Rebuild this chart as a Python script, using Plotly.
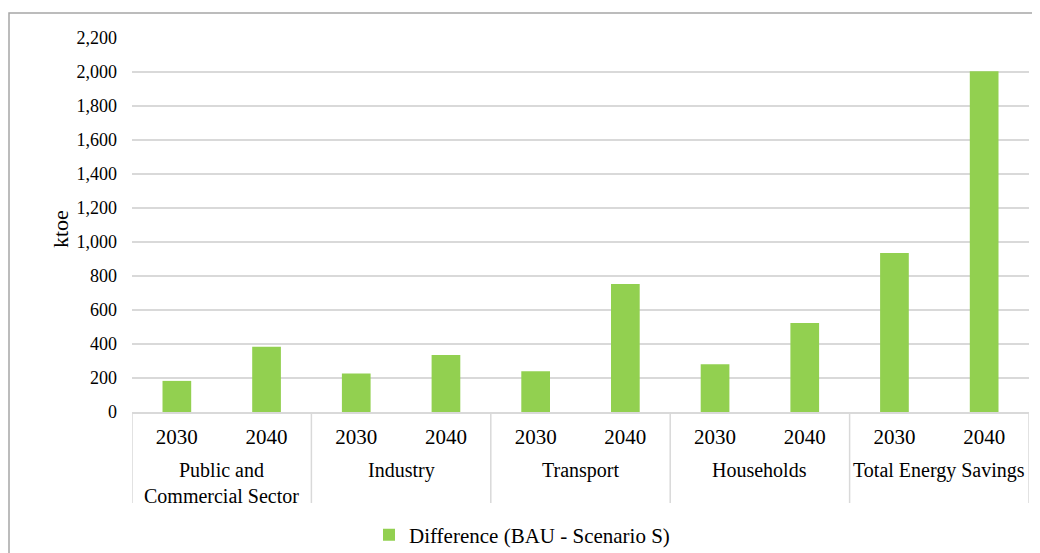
import plotly.graph_objects as go

sectors = ["Public and<br>Commercial Sector", "Industry", "Transport", "Households", "Total Energy Savings"]
years = ["2030", "2040"]
values_2030 = [183, 226, 240, 281, 935]
values_2040 = [384, 335, 753, 523, 2005]
series_name = "Difference (BAU - Scenario S)"
y_ticks = [0, 200, 400, 600, 800, 1000, 1200, 1400, 1600, 1800, 2000, 2200]

xpos, ticktext, vals = [], [], []
for gi, (a, b) in enumerate(zip(values_2030, values_2040)):
    for yi, v in enumerate((a, b)):
        xpos.append(gi * 2 + yi)
        ticktext.append(years[yi])
        vals.append(v)

FONT = "Liberation Serif"
GRID = "#d9d9d9"
OFF = 8  # page body margin
L, T, R, B = 132 - OFF, 38 - OFF, 1040 - 1029 + OFF, 553 - 412 + OFF
PH = 553 - T - B
PW = 1040 - L - R
fig = go.Figure()
fig.add_trace(go.Bar(
    x=xpos, y=vals, name=series_name,
    marker=dict(color="#92d050", line=dict(width=0)),
    showlegend=True, width=0.32,
))

fig.update_layout(
    width=1040, height=553,
    margin=dict(l=L, r=R, t=T, b=B, autoexpand=False),
    paper_bgcolor="white", plot_bgcolor="white",
    font=dict(family=FONT, size=18, color="#000000"),
    showlegend=True,
    legend=dict(orientation="h", xref="container", yref="container",
                x=(369 - OFF) / 1040, xanchor="left", y=1 - (535 - OFF) / 553, yanchor="middle",
                font=dict(size=21, family=FONT), itemwidth=30),
    xaxis=dict(
        range=[-0.5, len(xpos) - 0.5], tickvals=xpos, ticktext=ticktext,
        showline=True, linecolor=GRID, linewidth=1.5,
        tickfont=dict(size=21, family=FONT), ticklabelstandoff=5,
        ticks="", showgrid=False, zeroline=False, automargin=False,
    ),
    yaxis=dict(
        range=[0, 2200], tickvals=y_ticks, tickformat=",d",
        showgrid=True, gridcolor=GRID, gridwidth=1.5,
        zeroline=False, showline=False, ticks="",
        ticklabelstandoff=14, automargin=False,
        tickfont=dict(size=18, family=FONT),
    ),
)

div_bottom = (412 - 503) / PH
for gi, s in enumerate(sectors):
    nlines = s.count("<br>") + 1
    fig.add_annotation(text=s, xref="x", yref="paper", x=gi * 2 + 0.5,
                       y=(412 - 470) / PH, yanchor="top" if nlines > 1 else "middle",
                       yshift=13 if nlines > 1 else 0,
                       showarrow=False, font=dict(size=20, family=FONT))
for k in range(len(sectors) + 1):
    fig.add_shape(type="line", xref="x", yref="paper",
                  x0=k * 2 - 0.5, x1=k * 2 - 0.5, y0=0, y1=div_bottom,
                  line=dict(color=GRID, width=1.5))

fig.add_annotation(text="ktoe", textangle=-90, xref="paper", yref="paper",
                   x=(60 - 132) / PW, y=(412 - 229) / PH, xanchor="center", yanchor="middle",
                   showarrow=False, font=dict(size=22, family=FONT))

fig.add_shape(type="rect", xref="paper", yref="paper",
              x0=(9 - 132) / PW, x1=1.05, y0=-0.6, y1=(412 - 13) / PH,
              line=dict(color="#a6a6a6", width=1.5), fillcolor="rgba(0,0,0,0)",
              layer="below")

fig.write_html("out.html")
